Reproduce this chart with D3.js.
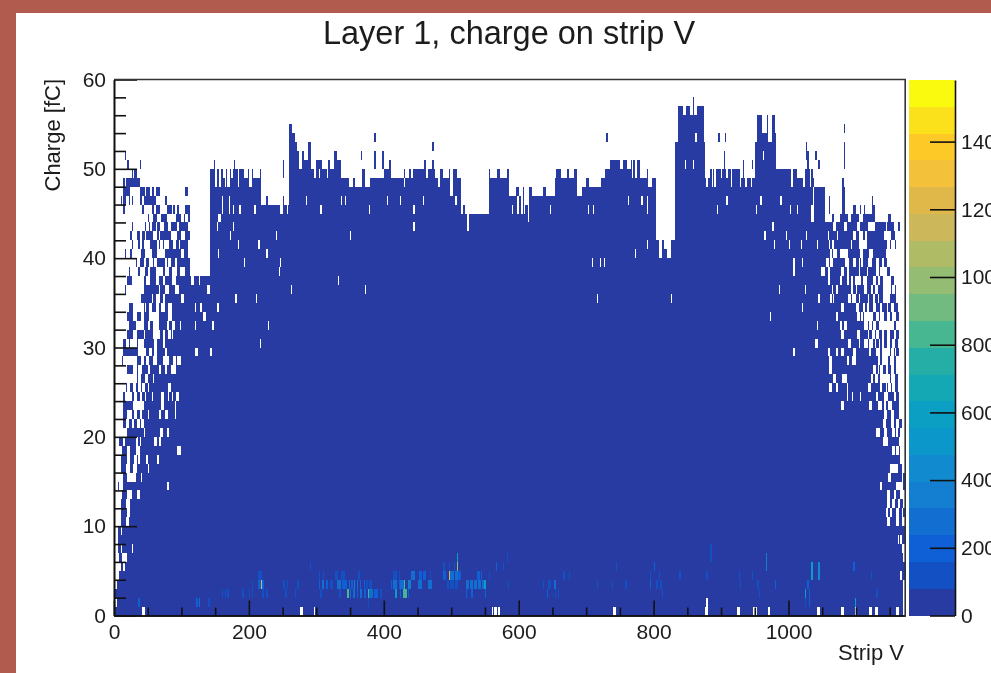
<!DOCTYPE html>
<html>

<head>
<meta charset="utf-8">
<style>
	html, body { margin: 0; background: #b15b4e; overflow: hidden; }
	svg { display: block; filter: blur(0.5px); }
	text { font-family: "Liberation Sans", Arial, sans-serif; fill: #1c1c1c; }
	.axis text { font-size: 21px; }
	.axis path, .axis line { stroke: #111; stroke-width: 1.6px; }
</style>
<script src="https://d3js.org/d3.v7.min.js"></script>
</head>

<body>
<svg width="991" height="673"></svg>

<script>
// values, strips and fC

var xTicks = [0, 200, 400, 600, 800, 1000];
var xMinor = [50, 100, 150, 250, 300, 350, 450, 500, 550, 650, 700, 750, 850, 900, 950, 1050, 1100, 1150];
var yTicks = [0, 10, 20, 30, 40, 50, 60];
var yMinor = [2, 4, 6, 8, 12, 14, 16, 18, 22, 24, 26, 28, 32, 34, 36, 38, 42, 44, 46, 48, 52, 54, 56, 58];
var zTicks = [0, 200, 400, 600, 800, 1000, 1200, 1400];

var birdColors = ["#283ba3", "#1350c4", "#0f5fd6", "#136ed2", "#147ed1", "#118acf", "#0b97c9", "#0a9fc3",
	"#14a8b4", "#24aea6", "#47b792", "#71bb81", "#94bc72", "#b0bb65", "#ccb75b", "#e0b84a",
	"#f3c23a", "#fcc926", "#fbe01c", "#f9fa0e"];

// [from strip, to strip, number of filled charge rows]
var topEdge = [[0,112,40],[112,142,38],[142,147,50],[147,149,51],[149,152,49],[152,155,50],[155,157,48],[157,161,50],
	[161,165,49],[165,167,50],[167,171,48],[171,177,50],[177,179,51],[179,183,50],[183,186,49],[186,191,50],[191,197,49],
	[197,200,50],[200,203,48],[203,206,50],[206,215,49],[215,218,50],[218,226,46],[226,228,47],[228,246,46],[246,250,45],
	[250,252,47],[252,259,46],[259,264,55],[264,267,54],[267,271,53],[271,274,52],[274,277,50],[277,281,52],[281,287,51],
	[287,292,53],[292,295,50],[295,300,49],[300,308,51],[308,318,50],[318,320,51],[320,325,50],[325,329,52],[329,335,51],
	[335,347,49],[347,353,48],[353,357,49],[357,367,48],[367,371,50],[371,380,48],[380,399,49],[399,409,50],[409,424,49],
	[424,429,49],[429,431,50],[431,438,49],[438,440,50],[440,444,49],[444,459,50],[459,461,51],[461,466,49],[466,472,50],
	[472,474,51],[474,476,50],[476,479,49],[479,483,48],[483,487,50],[487,495,49],[495,497,50],[497,501,47],[501,508,50],
	[508,514,49],[514,518,45],[518,520,46],[520,555,45],[555,557,50],[557,567,49],[567,571,50],[571,581,49],[581,586,50],
	[586,595,47],[595,600,48],[600,605,47],[605,608,48],[608,616,46],[616,619,48],[619,636,47],[636,640,48],[640,653,47],
	[653,656,49],[656,661,50],[661,671,49],[671,674,50],[674,681,49],[681,686,50],[686,694,47],[694,699,48],[699,704,49],
	[704,721,48],[721,727,49],[727,735,50],[735,749,51],[749,754,50],[754,760,51],[760,765,50],[765,768,51],[768,770,49],
	[770,772,51],[772,776,49],[776,779,51],[779,789,49],[789,792,50],[792,797,48],[797,803,49],[803,807,42],[807,812,40],
	[812,816,42],[816,820,41],[820,825,40],[825,832,42],[832,835,53],[835,844,57],[844,848,56],[848,854,57],[854,858,56],
	[858,860,58],[860,863,56],[863,873,57],[873,876,53],[876,882,49],[882,928,50],[928,950,49],[950,953,53],[953,959,56],
	[959,967,54],[967,969,56],[969,975,53],[975,980,56],[980,981,54],[981,1012,50],[1012,1024,49],[1024,1027,50],
	[1027,1030,52],[1030,1038,50],[1038,1053,48],[1053,1173,41]];

// sparse top of the left fringe, rows 40 and up: [row, [from, to], ...] filled
var leftFilled = [[51,[16,18]],[50,[20,22],[38,40]],[49,[25,27],[29,33]],[48,[14,16],[18,37]],
	[47,[14,24],[38,46],[48,54],[56,60],[62,68],[106,108]],
	[46,[10,12],[14,18],[21,23],[25,27],[38,42],[44,62],[76,77]],
	[45,[14,16],[42,44],[56,60],[62,68],[78,86],[88,90],[93,96],[105,112]],
	[44,[50,52],[58,64],[69,78],[91,100],[103,106],[110,112]],
	[43,[25,27],[46,48],[52,54],[56,62],[64,67],[73,80],[84,94],[95,110]],
	[42,[23,25],[33,37],[41,46],[48,58],[63,66],[68,83],[93,100],[106,112]],
	[41,[25,27],[35,37],[41,43],[53,63],[66,68],[71,73],[81,88],[91,95],[98,110]],
	[40,[16,18],[23,25],[39,46],[56,63],[76,100],[103,110]]];

// sparse top of the right fringe, rows 41 and up, strips above 1053
var rightFilled = [[47,[1080,1083]],[46,[1059,1061],[1079,1084],[1123,1126]],
	[45,[1059,1061],[1079,1084],[1095,1100],[1105,1108],[1111,1114],[1123,1127]],
	[44,[1064,1068],[1076,1087],[1091,1104],[1109,1128],[1148,1151]],
	[43,[1054,1066],[1069,1081],[1086,1101],[1106,1118],[1128,1143],[1146,1156],[1161,1165]],
	[42,[1053,1057],[1059,1071],[1074,1096],[1100,1104],[1109,1114],[1116,1141],[1151,1158]],
	[41,[1053,1059],[1062,1064],[1067,1091],[1094,1104],[1116,1146],[1150,1152],[1158,1160]]];

// empty cells below those: [row, [from, to], ...]
var leftGaps = [[39,[0,31],[34,38],[44,48],[53,58],[61,63],[76,78],[81,83],[91,93]],
	[38,[0,21],[24,36],[39,46],[51,53],[63,71],[76,81],[86,93],[98,105]],
	[37,[0,19],[26,44],[48,53],[63,66],[73,76],[86,91],[115,118],[126,128]],
	[36,[0,16],[19,44],[66,68],[76,81],[91,95],[138,142]],
	[35,[0,39],[56,58],[63,68],[73,76],[100,103]],
	[34,[0,21],[29,44],[46,48],[53,56],[63,66],[71,76],[81,86],[120,122],[128,130],[152,155]],
	[33,[0,19],[29,34],[41,44],[53,57],[58,66],[81,86],[133,135]],
	[32,[0,21],[33,44],[51,53],[58,66],[78,81],[86,89],[98,100],[120,122],[146,147]],
	[31,[0,19],[29,34],[44,46],[58,67],[73,76],[81,83],[86,88]],
	[30,[0,14],[19,21],[24,34],[36,44],[61,63],[73,76]],
	[29,[0,14],[36,48],[53,56],[61,64],[76,77],[120,124],[143,145]],
	[28,[0,11],[14,33],[41,44],[48,51],[58,63],[73,81],[88,92],[95,99]],
	[27,[0,19],[29,33],[36,41],[51,53],[67,69],[76,78],[84,91]],
	[26,[0,19],[21,33],[36,39],[47,49],[58,60]],
	[25,[0,18],[21,24],[29,31],[36,39],[43,45],[51,52],[81,83]],
	[24,[0,14],[16,25],[31,34],[39,41],[46,48],[56,58],[71,73],[80,82],[86,88],[93,95]],
	[23,[0,14],[28,44],[71,73],[91,92]],
	[22,[0,14],[21,25],[31,33],[39,41],[50,52],[67,69],[77,79],[90,92]],
	[21,[0,14],[18,21],[26,29],[35,38],[41,44]],
	[20,[0,20],[44,46],[69,71],[78,81]],
	[19,[0,8],[14,16],[33,35],[38,40],[61,63],[67,69]],
	[18,[0,11],[21,24],[33,38],[95,97]],
	[17,[0,10],[21,24],[31,34],[36,38],[48,50],[64,66]],
	[16,[0,10],[19,24],[29,33],[50,52]],
	[15,[0,14],[20,31],[40,42]],
	[14,[0,5],[9,14],[78,82]],
	[13,[0,11],[21,26],[35,38]],
	[12,[0,10],[19,24]],[11,[0,9],[20,24]],[10,[0,9],[19,21]],[9,[0,6],[10,12]],[8,[0,6]],
	[7,[0,6],[10,11],[26,28]],[6,[0,8],[13,20]],[5,[0,10],[14,16]],[4,[0,8]],[3,[0,4]],[1,[1,3]]];

var rightGaps = [[40,[1062,1064],[1067,1072],[1077,1087],[1107,1109],[1121,1126],[1144,1173]],
	[39,[1007,1009],[1020,1022],[1057,1059],[1062,1066],[1085,1089],[1097,1099],[1104,1106],[1108,1110],[1118,1124],[1130,1134],[1138,1141],[1146,1173]],
	[38,[1007,1009],[1049,1053],[1059,1061],[1079,1081],[1087,1089],[1104,1106],[1116,1118],[1131,1133],[1136,1139],[1141,1146],[1150,1173]],
	[37,[1059,1061],[1077,1080],[1086,1089],[1092,1095],[1098,1108],[1111,1116],[1126,1129],[1132,1136],[1141,1152],[1156,1173]],
	[36,[1024,1026],[1064,1066],[1071,1073],[1093,1096],[1101,1102],[1113,1115],[1123,1125],[1129,1131],[1141,1152],[1155,1157],[1160,1173]],
	[35,[1044,1046],[1062,1064],[1066,1068],[1089,1092],[1094,1099],[1104,1106],[1118,1120],[1126,1128],[1132,1134],[1141,1150],[1160,1173]],
	[34,[1020,1022],[1079,1082],[1101,1103],[1111,1113],[1116,1120],[1126,1130],[1136,1138],[1146,1148],[1153,1155],[1162,1173]],
	[33,[1071,1073],[1103,1105],[1108,1110],[1113,1117],[1119,1125],[1130,1133],[1137,1142],[1147,1150],[1155,1160],[1164,1173]],
	[32,[1042,1044],[1077,1080],[1083,1085],[1113,1117],[1121,1124],[1126,1130],[1135,1156],[1160,1173]],
	[31,[1079,1081],[1103,1105],[1118,1120],[1125,1127],[1131,1133],[1138,1142],[1146,1149],[1157,1160],[1165,1173]],
	[30,[1041,1043],[1089,1091],[1104,1106],[1113,1118],[1120,1125],[1128,1130],[1134,1136],[1139,1142],[1147,1150],[1154,1158],[1163,1173]],
	[29,[1007,1009],[1059,1061],[1071,1073],[1079,1081],[1096,1099],[1120,1122],[1131,1135],[1138,1141],[1143,1150],[1152,1156],[1158,1160],[1165,1173]],
	[28,[1061,1064],[1086,1089],[1095,1100],[1132,1135],[1138,1147],[1150,1155],[1160,1173]],
	[27,[1061,1063],[1126,1130],[1132,1134],[1137,1140],[1145,1147],[1152,1155],[1160,1173]],
	[26,[1067,1069],[1080,1082],[1083,1085],[1123,1125],[1129,1131],[1137,1150],[1153,1158],[1163,1173]],
	[25,[1061,1063],[1071,1073],[1086,1088],[1119,1121],[1136,1138],[1144,1146],[1149,1151],[1155,1157],[1163,1173]],
	[24,[1086,1088],[1094,1096],[1106,1108],[1130,1132],[1143,1147],[1157,1160],[1165,1173]],
	[23,[1079,1081],[1121,1123],[1132,1137],[1142,1144],[1148,1153],[1164,1173]],
	[22,[1142,1146],[1153,1155],[1165,1173]],
	[21,[1141,1144],[1152,1156],[1161,1163],[1169,1173]],
	[20,[1131,1135],[1143,1146],[1154,1157],[1160,1162],[1166,1173]],
	[19,[1140,1147],[1165,1173]],
	[18,[1155,1158],[1160,1163],[1166,1173]],
	[17,[1167,1173]],
	[16,[1151,1153],[1155,1161],[1168,1173]],
	[15,[1149,1151],[1168,1170]],
	[14,[1136,1138],[1160,1169]],
	[13,[1147,1149],[1156,1159],[1166,1173]],
	[12,[1147,1149],[1154,1157],[1163,1166],[1170,1173]],
	[11,[1145,1147],[1151,1153],[1160,1163],[1168,1170],[1172,1173]],
	[10,[1147,1150],[1160,1164],[1168,1173]],
	[8,[1162,1164],[1166,1168]],[7,[1169,1171]],[6,[1170,1172]],[4,[1166,1168]],[3,[1170,1173]],[2,[1170,1172]],
	[1,[878,880],[1170,1172]],
	[0,[43,45],[277,279],[296,298],[560,562],[565,567],[570,572],[741,743],[877,880],[925,927],[948,950],[951,953],[970,972],[1043,1045],[1079,1081],[1098,1100],[1121,1123],[1129,1131],[1161,1163],[1170,1173]]];

// single white columns inside the body: [strip, lowest row, highest row]
var holes = [[160,45,46],[170,45,46],[176,45,45],[187,45,45],[208,45,45],[155,44,44],[157,44,44],[153,43,43],[176,43,43],
	[172,42,42],[185,41,41],[214,41,41],[240,42,42],[227,40,40],[155,40,40],[192,39,39],[246,39,39],[285,46,46],[307,45,45],
	[351,42,42],[379,45,45],[404,46,46],[336,46,46],[343,46,46],[256,45,46],[150,48,48],[156,49,49],[164,48,48],[174,49,49],
	[184,48,48],[194,49,49],[202,49,49],[296,49,50],[304,49,49],[316,49,49],[424,46,46],[430,48,48],[445,45,45],[445,43,43],
	[458,46,46],[506,46,46],[525,43,44],[590,45,45],[598,45,46],[604,45,46],[609,45,46],[615,44,45],[646,45,45],[703,45,45],
	[710,45,45],[773,40,40],[791,41,41],[763,46,46],[782,46,46],[791,45,46],[709,39,39],[720,39,39],[726,39,39],[847,50,50],
	[859,50,50],[863,53,53],[834,53,54],[895,45,45],[908,46,46],[953,45,45],[959,46,46],[989,46,46],[1003,45,45],[1012,45,45],
	[976,43,43],[964,42,42],[997,42,42],[979,41,41],[1001,41,41],[1018,41,41],[1007,39,39],[1020,39,39],[1035,44,45],[1026,42,42],
	[1042,41,41],[963,51,51],[879,48,49],[883,49,49],[887,48,49],[891,48,49],[900,49,49],[908,49,49],[914,48,49],[928,48,48],
	[936,48,48],[944,48,48],[1004,48,49],[1016,49,49],[1022,48,48],[1032,48,49],[1036,49,49],[1037,44,47],
	[216,30,30],[122,29,29],[142,29,29],[181,35,35],[332,37,37],[350,42,42],[716,35,35],[826,35,35],[79,14,14],[99,18,18],
	[1008,29,29],[972,33,33],[986,36,36],[210,35,35],[228,32,32],[244,38,38],[262,36,36],[372,36,36]];

// lone filled cells above the body: [strip, lowest row, highest row]
var strays = [[387,53,53],[387,50,51],[399,50,51],[408,50,50],[367,51,51],[250,49,50],[108,47,47],[473,52,52],[731,53,53],
	[859,57,57],[896,53,53],[906,53,53],[904,50,51],[932,49,50],[947,50,50],[1026,51,52],[1041,51,51],[1044,50,50],
	[1083,54,54],[1083,50,52],[1081,48,48],[1081,47,47]];

// busy cells: [from, to, row, count]
var hotCells = [[214,220,4,140],[304,306,4,110],[310,312,4,100],[328,332,4,130],[336,342,4,140],[361,363,4,110],[413,419,4,130],
	[290,292,5,100],[203,205,3,110],[214,218,3,160],[218,220,3,1130],[220,222,3,200],[250,254,3,120],[256,258,3,130],[271,273,3,110],
	[303,306,3,180],[308,312,3,260],[314,318,3,200],[320,323,3,140],[330,336,3,240],[337,345,3,200],[347,349,3,300],[351,354,3,200],
	[355,358,3,350],[360,362,3,250],[364,365,3,200],[370,372,3,160],[374,376,3,140],[378,382,3,130],[409,412,3,220],[414,419,3,300],[421,424,3,180],
	[160,162,2,110],[164,166,2,110],[168,170,2,110],[189,191,2,110],[199,201,2,100],[203,205,2,110],[219,221,2,120],[226,228,2,110],
	[254,256,2,110],[268,270,2,100],[306,308,2,110],[334,336,2,100],[346,348,2,820],[350,352,2,250],[353,357,2,300],[359,362,2,200],
	[364,368,2,250],[370,374,2,220],[376,378,2,820],[378,384,2,250],[386,391,2,180],[393,397,2,140],[417,419,2,620],
	[35,37,1,200],[121,123,1,160],[125,127,1,250],[140,142,1,110],[375,377,1,110],
	[508,510,6,600],[581,583,6,150],[488,490,5,120],[495,497,5,120],[503,506,5,150],[508,510,5,1000],[565,568,5,200],[575,577,5,120],
	[743,745,5,130],[799,801,5,200],[421,423,4,150],[425,426,4,200],[439,446,4,240],[451,455,4,180],[457,462,4,160],[468,470,4,110],
	[487,492,4,200],[495,497,4,1200],[498,503,4,300],[505,510,4,260],[510,513,4,160],[537,541,4,200],[543,545,4,170],[555,557,4,110],
	[665,667,4,100],[673,675,4,100],[794,796,4,110],[807,809,4,100],[837,839,4,100],
	[424,429,3,260],[430,432,3,820],[435,440,3,320],[449,456,3,260],[466,471,3,240],[493,496,3,120],[498,503,3,150],[505,510,3,120],
	[522,526,3,280],[528,532,3,250],[534,538,3,280],[540,544,3,300],[546,548,3,250],[548,552,3,560],
	[584,586,3,100],[636,638,3,110],[644,647,3,130],[651,656,3,260],[715,717,3,100],[738,740,3,100],[757,759,3,100],[794,796,3,220],
	[804,806,3,110],[809,812,3,110],[415,417,2,500],[423,425,2,160],[428,433,2,820],[436,438,2,160],[522,524,2,200],[530,532,2,200],[550,552,2,220],
	[642,644,2,160],[654,656,2,130],[658,660,2,120],[812,814,2,110],
	[884,886,6,130],[884,886,7,130],[965,967,5,350],[965,967,6,350],[1034,1036,4,600],[1034,1036,5,600],[1043,1045,4,450],[1043,1045,5,450],
	[1095,1097,5,200],[877,879,4,110],[926,928,4,110],[946,948,4,110],[1121,1123,4,110],[928,930,3,130],[953,955,3,130],[980,982,3,170],
	[1027,1029,3,220],[955,957,2,130],[1024,1026,2,600],[1030,1032,2,220],[1030,1032,1,220],[1129,1131,2,130],[1024,1026,1,130],[1098,1100,1,600]];

var binWidth = 2, nBins = 587, nRows = 60, baseCount = 40;

var svg = d3.select("svg");

// the white pad over the brown page
svg.append("rect").attr("width", 991).attr("height", 673).attr("fill", "#b15b4e");
svg.append("rect").attr("x", 16).attr("y", 13).attr("width", 975).attr("height", 660).attr("fill", "#fff");

var x = d3.scaleLinear().domain([0, 1173]).range([114, 905.2]),
	y = d3.scaleLinear().domain([0, 60]).range([615.5, 79.5]),
	z = d3.scaleLinear().domain([0, 1582]).range([615.5, 80]),
	color = d3.scaleQuantize().domain([0, 1582]).range(birdColors);

// fill the grid
var grid = d3.range(nBins).map(function() { return d3.range(nRows).map(function() { return 0; }); });

function eachBin(from, to, f) {
	for (var b = Math.ceil(from / binWidth); b * binWidth < to && b < nBins; b++) f(b);
}
// gaps cover every bin they touch
function eachTouched(from, to, f) {
	for (var b = Math.floor(from / binWidth); b * binWidth < to && b < nBins; b++) f(b);
}

topEdge.forEach(function(d) {
	eachBin(d[0], d[1], function(b) {
		for (var r = 0; r < d[2]; r++) grid[b][r] = baseCount;
	});
});

// fringes: wipe the rows first, then put back what is there
leftFilled.forEach(function(d) {
	eachBin(0, 112, function(b) { grid[b][d[0]] = 0; });
	d.slice(1).forEach(function(s) { eachBin(s[0], s[1], function(b) { grid[b][d[0]] = baseCount; }); });
});
rightFilled.forEach(function(d) {
	eachBin(1053, 1173, function(b) { grid[b][d[0]] = 0; });
	d.slice(1).forEach(function(s) { eachBin(s[0], s[1], function(b) { grid[b][d[0]] = baseCount; }); });
});
leftGaps.concat(rightGaps).forEach(function(d) {
	d.slice(1).forEach(function(s) { eachTouched(s[0], s[1], function(b) { grid[b][d[0]] = 0; }); });
});
holes.forEach(function(d) {
	var b = Math.floor(d[0] / binWidth);
	for (var r = d[1]; r <= d[2]; r++) grid[b][r] = 0;
});
strays.forEach(function(d) {
	var b = Math.floor(d[0] / binWidth);
	for (var r = d[1]; r <= d[2]; r++) grid[b][r] = baseCount;
});
hotCells.forEach(function(d) {
	eachBin(d[0], d[1], function(b) { grid[b][d[2]] = d[3]; });
});

// merge equal neighbours in a column so there are no seams
var cells = [];
grid.forEach(function(col, b) {
	var r = 0;
	while (r < nRows) {
		if (col[r] == 0) { r++; continue; }
		var c = color(col[r]), end = r + 1;
		while (end < nRows && col[end] > 0 && color(col[end]) == c) end++;
		cells.push({b: b, r0: r, r1: end, c: c});
		r = end;
	}
});

svg.append("g").selectAll("rect")
	.data(cells)
	.enter().append("rect")
	.attr("shape-rendering", "crispEdges")
	.attr("x", function(d) { return x(d.b * binWidth); })
	.attr("width", function(d) { return x((d.b + 1) * binWidth) - x(d.b * binWidth); })
	.attr("y", function(d) { return y(d.r1); })
	.attr("height", function(d) { return y(d.r0) - y(d.r1); })
	.attr("fill", function(d) { return d.c; });

// palette bar
svg.append("g").selectAll("rect")
	.data(birdColors)
	.enter().append("rect")
	.attr("shape-rendering", "crispEdges")
	.attr("x", 909)
	.attr("width", 46)
	.attr("y", function(d, i) { return z((i + 1) * 1582 / 20); })
	.attr("height", function(d, i) { return z(i * 1582 / 20) - z((i + 1) * 1582 / 20); })
	.attr("fill", function(d) { return d; });

// axes
svg.append("g").attr("class", "axis").attr("transform", "translate(0,615.5)")
	.call(d3.axisBottom(x).tickValues(xMinor).tickFormat("").tickSize(-8).tickSizeOuter(0));
svg.append("g").attr("class", "axis").attr("transform", "translate(0,615.5)")
	.call(d3.axisBottom(x).tickValues(xTicks).tickFormat(d3.format("d")).tickSize(-15).tickSizeOuter(0).tickPadding(9));
svg.append("g").attr("class", "axis").attr("transform", "translate(114,0)")
	.call(d3.axisLeft(y).tickValues(yMinor).tickFormat("").tickSize(-12).tickSizeOuter(0));
svg.append("g").attr("class", "axis").attr("transform", "translate(114,0)")
	.call(d3.axisLeft(y).tickValues(yTicks).tickSize(-23).tickSizeOuter(0).tickPadding(8));
svg.append("g").attr("class", "axis").attr("transform", "translate(955,0)")
	.call(d3.axisRight(z).tickValues(zTicks).tickFormat(d3.format("d")).tickSize(-25).tickSizeOuter(0).tickPadding(6));

// frame
svg.append("path").attr("fill", "none").attr("stroke", "#333").attr("stroke-width", 1.6)
	.attr("d", "M" + x(0) + "," + y(60) + "H" + x(1173) + "V" + y(0));

svg.append("text").attr("x", 509).attr("y", 44).attr("text-anchor", "middle").attr("font-size", 32.5).text("Layer 1, charge on strip V");
svg.append("text").attr("x", 904).attr("y", 660).attr("text-anchor", "end").attr("font-size", 22).text("Strip V");
svg.append("text").attr("transform", "translate(60,79) rotate(-90)").attr("text-anchor", "end").attr("font-size", 22).text("Charge [fC]");

</script>
</body>

</html>
